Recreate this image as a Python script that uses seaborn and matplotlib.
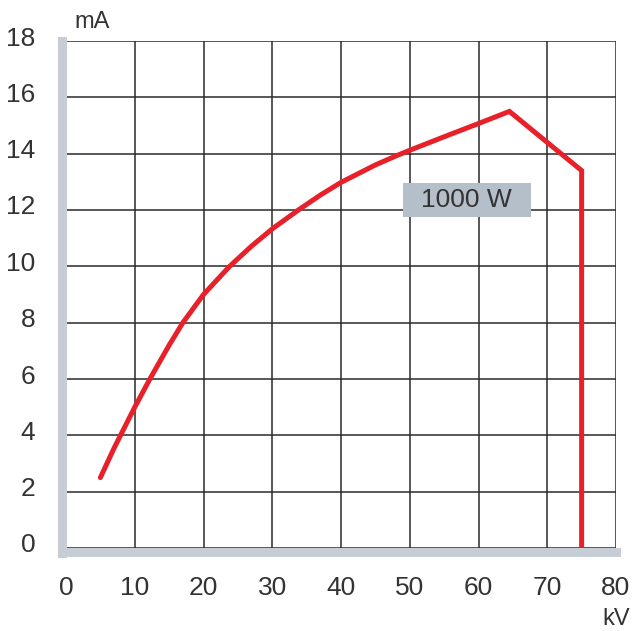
import matplotlib
matplotlib.use("Agg")
import matplotlib.pyplot as plt
import matplotlib.transforms as mtransforms
from matplotlib.patches import Rectangle
import pandas as pd
import seaborn as sns

# tube current limit curve
kv = [5, 7, 10, 12.2, 15, 17, 20, 23.8, 27, 30, 33.8, 37, 40, 45, 48.1, 50,
      55, 60, 64.5, 75, 75]
ma = [2.5, 3.55, 5.0, 6.0, 7.2, 8.0, 9.0, 10.0, 10.72, 11.33, 12.0, 12.53,
      12.98, 13.6, 13.93, 14.12, 14.6, 15.07, 15.5, 13.4, 0]
x_ticks = [0, 10, 20, 30, 40, 50, 60, 70, 80]
y_ticks = [0, 2, 4, 6, 8, 10, 12, 14, 16, 18]
label = "1000 W"

sns.set_style("white")
plt.rcParams["font.family"] = ["Liberation Sans", "DejaVu Sans"]

df = pd.DataFrame({"kV": kv, "mA": ma})

fig = plt.figure(figsize=(6.35, 6.31), dpi=100)
ax = fig.add_axes([66 / 635, 1 - 548 / 631, 550 / 635, 507 / 631])

sns.lineplot(data=df, x="kV", y="mA", sort=False, estimator=None,
             color="#e8202a", linewidth=3.6, ax=ax, zorder=5,
             solid_joinstyle="miter", solid_capstyle="round")

ax.set_xlim(0, 80)
ax.set_ylim(0, 18)
ax.set_xticks(x_ticks)
ax.set_yticks(y_ticks)
ax.set_xlabel("")
ax.set_ylabel("")
ax.grid(True, color="#2a2a2a", linewidth=1.1)
ax.set_axisbelow(True)

for s in ["top", "right"]:
    ax.spines[s].set_visible(False)
grey = "#c6cdd5"
ax.spines["left"].set_color(grey)
ax.spines["left"].set_linewidth(6.5)
ax.spines["left"].set_position(("outward", 3))
ax.spines["left"].set_bounds(-0.16, 18)
ax.spines["bottom"].set_color(grey)
ax.spines["bottom"].set_linewidth(6.5)
ax.spines["bottom"].set_position(("outward", 3.2))

ax.tick_params(axis="both", length=0, labelsize=19, labelcolor="#333333")
ax.tick_params(axis="y", pad=19)
ax.tick_params(axis="x", pad=17)

off = mtransforms.ScaledTranslation(0, 5 / 100, fig.dpi_scale_trans)
for t in ax.get_yticklabels():
    t.set_transform(t.get_transform() + off)

ax.add_patch(Rectangle((49.0, 11.75), 18.6, 1.22, facecolor="#b4bfca",
                       edgecolor="none", zorder=6))
ax.text(58.3, 12.36, label, ha="center", va="center", fontsize=19,
        color="#333333", zorder=7)

ax.text(0.015, 1.025, "mA", transform=ax.transAxes, fontsize=17,
        color="#333333", va="baseline", ha="left")
fig.text(630 / 635, 6 / 631, "kV", fontsize=17, color="#333333",
         va="baseline", ha="right")

fig.savefig("out.png", dpi=100)
